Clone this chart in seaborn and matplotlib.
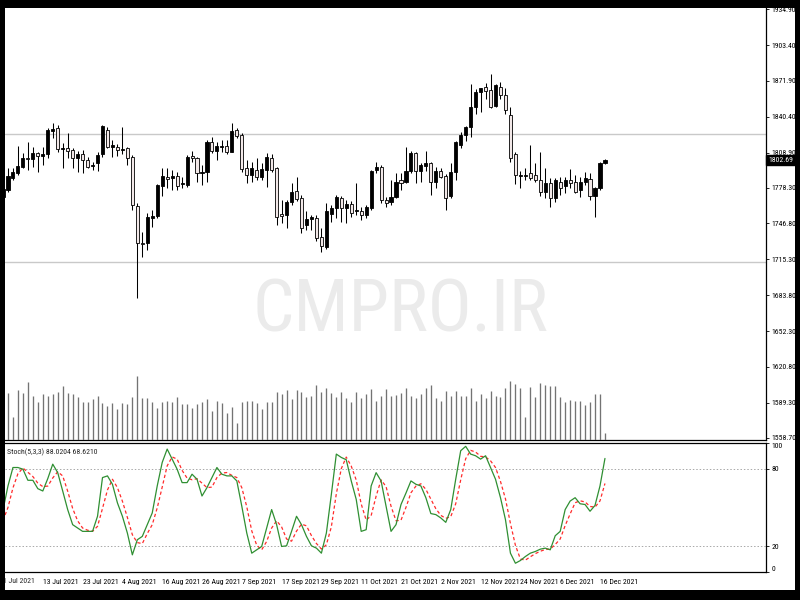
import numpy as np
import pandas as pd
import matplotlib
matplotlib.use("Agg")
import matplotlib.pyplot as plt
import matplotlib.transforms as mtrans
from matplotlib import font_manager as fm
from matplotlib.patches import Rectangle
import seaborn as sns

# ---------------- data (XAUUSD daily, 1 Jul - 17 Dec 2021) ----------------
dates = pd.bdate_range("2021-07-01", "2021-12-17")

open_ = [1770.0, 1776.1, 1786.4, 1791.0, 1796.0, 1804.5, 1803.5, 1808.3, 1806.3, 1807.5, 1828.0,
         1830.3, 1811.9, 1812.7, 1811.3, 1804.0, 1807.5, 1802.5, 1797.0, 1799.6, 1807.5,
         1828.8, 1813.6, 1814.2, 1811.0, 1812.7, 1805.4, 1762.4, 1730.0, 1729.3, 1751.3,
         1753.3, 1780.0, 1787.6, 1786.4, 1788.7, 1781.0, 1780.5, 1806.3, 1804.0, 1790.8,
         1792.2, 1818.6, 1810.4, 1813.9, 1815.1, 1809.8, 1828.8, 1824.4, 1795.2, 1789.3,
         1793.7, 1787.8, 1793.7, 1804.5, 1795.2, 1755.1, 1754.2, 1765.3, 1775.3, 1769.4,
         1745.4, 1750.9, 1751.3, 1735.2, 1726.4, 1755.1, 1760.6, 1769.4, 1760.0, 1763.6,
         1757.7, 1758.0, 1754.2, 1760.6, 1793.7, 1796.6, 1767.4, 1765.3, 1770.3, 1784.5,
         1782.9, 1792.8, 1808.3, 1792.8, 1797.2, 1799.6, 1783.5, 1792.8, 1788.4, 1771.2,
         1791.6, 1815.7, 1824.4, 1831.7, 1849.3, 1862.5, 1866.9, 1864.0, 1850.2, 1866.9,
         1859.6, 1842.0, 1807.5, 1788.6, 1788.4, 1790.8, 1789.3, 1784.9, 1774.7, 1782.0,
         1769.4, 1782.9, 1779.9, 1784.9, 1783.5, 1776.1, 1782.9, 1785.8, 1771.2, 1777.6, 1799.6]

high = [1778.0, 1795.2, 1795.2, 1815.0, 1808.5, 1818.6, 1814.2, 1809.8, 1814.2, 1830.3, 1834.7,
        1833.2, 1817.0, 1826.0, 1812.7, 1810.0, 1811.3, 1805.4, 1801.0, 1809.8, 1833.2,
        1831.8, 1820.0, 1816.2, 1831.8, 1814.2, 1806.9, 1764.4, 1739.6, 1755.7, 1758.6,
        1781.4, 1795.2, 1795.2, 1793.7, 1792.2, 1787.8, 1806.9, 1810.4, 1804.8, 1798.1,
        1820.0, 1823.0, 1818.6, 1820.0, 1820.0, 1834.7, 1830.3, 1825.9, 1802.5, 1801.0,
        1804.0, 1799.6, 1808.3, 1807.5, 1796.6, 1767.4, 1767.4, 1782.0, 1787.8, 1771.8,
        1757.7, 1754.2, 1754.2, 1742.5, 1764.4, 1763.0, 1771.8, 1771.2, 1767.4, 1766.5,
        1782.0, 1761.5, 1763.0, 1793.7, 1801.0, 1798.1, 1770.3, 1784.9, 1790.8, 1790.8,
        1814.2, 1810.4, 1809.8, 1799.6, 1810.4, 1801.0, 1796.6, 1795.7, 1789.9, 1799.6,
        1819.2, 1827.4, 1832.6, 1869.2, 1864.8, 1866.0, 1869.8, 1877.7, 1868.9, 1871.3,
        1865.4, 1849.3, 1809.2, 1792.8, 1795.7, 1815.7, 1799.6, 1809.2, 1795.2, 1786.4,
        1786.4, 1787.8, 1787.8, 1794.6, 1789.3, 1787.8, 1791.6, 1790.8, 1779.1, 1801.0, 1803.5]

low = [1767.0, 1774.1, 1784.9, 1789.5, 1795.2, 1793.7, 1796.6, 1792.2, 1798.1, 1804.5, 1821.5,
       1809.8, 1795.2, 1804.0, 1795.2, 1792.0, 1790.8, 1795.2, 1793.7, 1792.8, 1805.4,
       1812.7, 1805.4, 1806.3, 1807.5, 1798.1, 1758.6, 1681.6, 1717.6, 1723.5, 1743.9,
       1751.3, 1771.2, 1777.6, 1776.1, 1776.1, 1777.6, 1779.0, 1801.0, 1783.5, 1780.5,
       1783.5, 1808.3, 1802.5, 1809.8, 1807.5, 1809.2, 1822.1, 1792.2, 1782.0, 1783.5,
       1784.9, 1784.9, 1779.0, 1792.2, 1745.4, 1746.9, 1742.5, 1763.0, 1766.5, 1738.1,
       1741.0, 1741.0, 1731.0, 1722.0, 1724.3, 1748.3, 1751.3, 1748.3, 1746.9, 1752.7,
       1754.2, 1749.8, 1751.3, 1758.6, 1790.8, 1764.4, 1761.5, 1763.0, 1768.8, 1776.1,
       1782.0, 1790.8, 1782.0, 1783.5, 1792.8, 1771.8, 1778.2, 1786.4, 1758.6, 1769.4,
       1784.9, 1813.3, 1819.2, 1823.0, 1842.6, 1844.9, 1856.0, 1848.4, 1849.3, 1856.0,
       1842.6, 1801.0, 1781.1, 1777.6, 1785.0, 1784.9, 1782.9, 1771.2, 1769.4, 1761.5,
       1765.9, 1771.8, 1773.2, 1777.6, 1773.2, 1770.3, 1780.5, 1767.4, 1752.7, 1776.1, 1798.6]

close = [1776.6, 1788.4, 1792.2, 1797.5, 1804.5, 1803.0, 1808.3, 1806.3, 1807.5, 1828.8, 1829.7,
         1811.9, 1812.7, 1810.7, 1804.0, 1807.5, 1802.5, 1796.6, 1798.5, 1806.9, 1832.6,
         1814.2, 1815.6, 1811.3, 1812.0, 1804.0, 1763.0, 1729.9, 1728.7, 1752.7, 1753.6,
         1780.5, 1788.4, 1786.0, 1788.4, 1779.7, 1782.0, 1805.4, 1804.6, 1790.8, 1791.8,
         1818.6, 1810.7, 1814.8, 1814.5, 1809.8, 1828.2, 1823.9, 1794.6, 1789.3, 1795.2,
         1787.8, 1794.3, 1805.4, 1793.7, 1752.7, 1753.3, 1765.3, 1774.1, 1768.2, 1742.5,
         1750.4, 1752.7, 1734.3, 1727.0, 1757.7, 1760.6, 1770.3, 1760.6, 1763.6, 1755.7,
         1758.6, 1754.2, 1761.5, 1792.8, 1796.6, 1767.4, 1764.4, 1770.3, 1783.5, 1782.6,
         1792.8, 1808.3, 1792.8, 1798.1, 1799.6, 1782.9, 1792.8, 1787.8, 1769.4, 1792.2,
         1818.6, 1824.4, 1831.7, 1849.3, 1862.5, 1865.4, 1863.4, 1849.3, 1868.3, 1859.6,
         1846.4, 1804.5, 1789.3, 1789.3, 1788.8, 1787.0, 1784.9, 1774.1, 1782.0, 1768.8,
         1784.9, 1778.2, 1784.9, 1782.0, 1774.7, 1783.5, 1786.4, 1771.2, 1777.6, 1799.6, 1802.69]

volume = [45000, 46700, 22700, 50000, 46700, 58300, 44300, 37700, 45700, 44300, 45700,
          47700, 54000, 46700, 45700, 42700, 38300, 37700, 40700, 44300, 37300,
          34300, 36700, 31300, 36700, 35700, 43300, 64000, 41700, 42300, 37700,
          32300, 38300, 39300, 37700, 43300, 35700, 35700, 32300, 35700, 37700,
          41000, 29300, 38700, 36700, 26700, 33300, 17300, 37700, 39000, 39000,
          36700, 31000, 37700, 37700, 47700, 45700, 49700, 41000, 49700, 48300,
          43300, 44000, 55000, 48300, 51700, 46700, 43300, 48300, 41700, 38300,
          48300, 41700, 45700, 50700, 39000, 44000, 50700, 44300, 45000, 46700,
          51700, 44300, 42300, 45700, 51700, 55000, 42300, 39000, 49000, 44300,
          49000, 44000, 44300, 51700, 39000, 45700, 42300, 49000, 44000, 43300,
          52300, 59300, 56000, 51700, 22700, 53300, 43300, 57300, 55000, 54300,
          54300, 43300, 37700, 40000, 39000, 39000, 35000, 37700, 45700, 45700, 6700]

stoch_k = [48.0, 66.7, 81.0, 81.0, 79.7, 71.1, 71.1, 64.6, 62.8, 72.4, 83.6,
           77.0, 62.8, 48.4, 36.7, 34.1, 31.5, 31.5, 31.5, 43.2, 73.2,
           74.5, 68.0, 53.6, 43.2, 30.2, 13.3, 25.0, 27.6, 36.7, 45.8,
           66.7, 84.9, 95.3, 87.5, 79.7, 69.3, 69.3, 75.8, 71.9, 58.9,
           65.4, 73.2, 81.0, 75.8, 74.5, 74.5, 70.6, 51.0, 30.2, 14.6,
           17.2, 19.8, 34.1, 48.4, 36.7, 19.8, 20.3, 31.5, 43.2, 36.7,
           27.6, 20.3, 18.5, 14.6, 30.2, 60.1, 91.4, 88.8, 87.0, 70.6,
           56.3, 31.5, 32.8, 66.7, 77.0, 70.6, 51.0, 31.5, 36.7, 52.3,
           61.2, 70.6, 68.0, 66.7, 57.6, 45.3, 44.5, 41.9, 38.5, 48.4,
           71.9, 94.0, 97.4, 91.4, 90.1, 87.5, 90.1, 81.0, 71.9, 57.6,
           40.6, 14.6, 6.8, 8.9, 12.0, 14.6, 15.9, 17.7, 18.5, 17.2,
           28.1, 31.5, 48.4, 55.0, 57.6, 52.9, 52.3, 47.1, 51.6, 66.7, 88.0204]

stoch_d = [40.0, 50.0, 65.2, 76.2, 80.6, 77.3, 74.0, 68.9, 66.2, 66.6, 72.9,
           77.7, 74.5, 62.7, 49.3, 39.7, 34.1, 32.4, 31.5, 35.4, 49.3,
           63.6, 71.9, 65.4, 54.9, 42.3, 28.9, 22.8, 22.0, 29.8, 36.7,
           49.7, 65.8, 82.3, 89.2, 87.5, 78.8, 72.8, 71.5, 72.3, 68.9,
           65.4, 65.8, 73.2, 76.7, 77.1, 74.9, 73.2, 65.4, 50.6, 31.9,
           20.7, 17.2, 23.7, 34.1, 39.7, 35.0, 25.6, 23.9, 31.7, 37.1,
           35.8, 28.2, 22.1, 17.8, 21.1, 35.0, 60.6, 80.1, 89.1, 82.1,
           71.3, 52.8, 40.2, 43.7, 58.8, 71.4, 66.2, 51.0, 39.7, 40.2,
           50.1, 61.4, 66.6, 68.4, 64.1, 56.5, 49.1, 43.9, 41.6, 42.9,
           52.9, 71.4, 87.8, 94.3, 93.0, 89.7, 89.2, 86.2, 81.0, 70.2,
           56.7, 37.6, 20.7, 10.1, 9.2, 11.8, 14.2, 16.1, 17.4, 17.8,
           21.3, 25.6, 36.0, 45.0, 53.7, 55.2, 54.3, 50.8, 50.3, 55.1, 68.6210]

price_ticks = [1934.90, 1903.40, 1871.90, 1840.40, 1808.90, 1778.30, 1746.80,
               1715.30, 1683.80, 1652.30, 1620.80, 1589.30, 1558.70]
stoch_levels = [20, 80]
hlines = [1825.3, 1713.0]
date_label_every = 8
watermark = "CMPRO.IR"

# ---------------- style ----------------
sns.set_theme(style="white")
avail = {f.name for f in fm.fontManager.ttflist}
cond = [f for f in ["Roboto Condensed", "Liberation Sans Narrow", "Open Sans Condensed",
                    "Arial Narrow"] if f in avail]
fam = cond + ["DejaVu Sans"]
plt.rcParams["font.family"] = fam
small = fm.FontProperties(family=fam, size=5.6, stretch="condensed")

df = pd.DataFrame({"date": dates, "open": open_, "high": high, "low": low,
                   "close": close, "volume": volume, "k": stoch_k, "d": stoch_d})
df["i"] = np.arange(len(df))

W, H = 800, 600
fig = plt.figure(figsize=(8, 6), dpi=100, facecolor="black")
fig.add_artist(Rectangle((5 / W, 1 - 590 / H), 790 / W, 582 / H, transform=fig.transFigure,
                         facecolor="white", edgecolor="none", zorder=-5))

ax = fig.add_axes([5 / W, 1 - 440 / H, 761 / W, 432 / H])
sax = fig.add_axes([5 / W, 1 - 572 / H, 761 / W, 129 / H])

xlim = (0.402, 153.37)

# volumes (overlay in main window)
vax = ax.twinx()
vax.vlines(df["i"], 0, df["volume"], color="#737373", lw=0.95, zorder=2)
vax.set_ylim(0, 432000)
vax.set_xlim(*xlim)
vax.axis("off")

# candles
up = df["close"] >= df["open"]
ax.vlines(df["i"], df["low"], df["high"], color="black", lw=0.75, zorder=3)
body_lo = np.minimum(df["open"], df["close"])
body_h = np.maximum(np.abs(df["close"] - df["open"]), 0.7)
ax.bar(df["i"], body_h, bottom=body_lo, width=0.62,
       color=np.where(up, "black", "#f2e8e8"), edgecolor="black", linewidth=0.6, zorder=4)

for lv in hlines:
    ax.axhline(lv, color="#c9c9c9", lw=1.0, zorder=1)

ax.set_xlim(*xlim)
ax.set_ylim(1556.7, 1935.9)
ax.set_facecolor("white")
ax.yaxis.tick_right()
ax.set_yticks(price_ticks)
ax.set_yticklabels([f"{p:.2f}" for p in price_ticks], fontproperties=small)
ax.tick_params(axis="y", direction="out", length=2.5, width=0.6, pad=1.2, colors="black")
ax.set_xticks([])
for s in ["left", "top"]:
    ax.spines[s].set_visible(False)
for s in ["right", "bottom"]:
    ax.spines[s].set_color("black")
    ax.spines[s].set_linewidth(0.9)

# watermark
wm = ax.text((400 - 5) / 761, (440 - 331) / 432, watermark, transform=ax.transAxes,
             ha="center", va="baseline", color="#ebebeb", fontsize=60, zorder=0.5,
             fontstretch="condensed")
fig.canvas.draw()
wbb = wm.get_window_extent()
wm.set_fontsize(min(84, 60 * 296 / wbb.width))

# current price label
blend = mtrans.blended_transform_factory(ax.transAxes, ax.transData)
ax.text(1.003, df["close"].iloc[-1], f"{df['close'].iloc[-1]:.2f}", transform=blend,
        ha="left", va="center", color="white", fontproperties=small, zorder=10,
        bbox=dict(boxstyle="square,pad=0.25", fc="black", ec="black"), clip_on=False)

# stochastic
sns.lineplot(data=df, x="i", y="k", ax=sax, color="#2f8f32", lw=0.9, zorder=3)
sns.lineplot(data=df, x="i", y="d", ax=sax, color="#ff2b2b", lw=0.9,
             linestyle=(0, (2.6, 2.0)), zorder=2)
for lv in stoch_levels:
    sax.axhline(lv, color="#a8a8a8", lw=0.7, linestyle=(0, (1.5, 2.0)), zorder=1)
sax.set_xlim(*xlim)
sax.set_ylim(0, 100)
sax.set_xlabel("")
sax.set_ylabel("")
sax.set_facecolor("white")
sax.yaxis.tick_right()
sax.set_yticks([0, 20, 80, 100])
sax.set_yticklabels(["0", "20", "80", "100"], fontproperties=small)
for lab in sax.get_yticklabels():
    if lab.get_text() == "100":
        lab.set_va("top")
    elif lab.get_text() == "0":
        lab.set_va("bottom")
sax.tick_params(axis="y", direction="out", length=2.5, width=0.6, pad=1.2, colors="black")

ticks_idx = list(range(0, len(df), date_label_every))
labels = [f"{d.day} {d.strftime('%b %Y')}" for d in df["date"].iloc[ticks_idx]]
sax.set_xticks(ticks_idx[1:])
sax.set_xticklabels(labels[1:], fontproperties=small, ha="left")
sax.tick_params(axis="x", direction="out", length=2.5, width=0.6, pad=2.4, colors="black")
xblend = mtrans.blended_transform_factory(sax.transData, sax.transAxes)
sax.text(ticks_idx[0], -0.05, labels[0], transform=xblend, ha="left", va="top",
         fontproperties=small, clip_on=False)
for s in ["left"]:
    sax.spines[s].set_visible(False)
for s in ["right", "bottom", "top"]:
    sax.spines[s].set_color("black")
    sax.spines[s].set_linewidth(0.9)
sax.text(0.002, 0.93, f"Stoch(5,3,3) {stoch_k[-1]:.4f} {stoch_d[-1]:.4f}",
         transform=sax.transAxes, ha="left", va="center", fontproperties=small, zorder=5)

# black window frame on top
for (x0, y0, w, h) in [(0, 0, 5, 600), (0, 0, 800, 8), (795, 0, 5, 600), (0, 590, 800, 10)]:
    fig.add_artist(Rectangle((x0 / W, 1 - (y0 + h) / H), w / W, h / H,
                             transform=fig.transFigure, facecolor="black",
                             edgecolor="none", zorder=20))

fig.savefig("out.png", dpi=100, facecolor="black")
